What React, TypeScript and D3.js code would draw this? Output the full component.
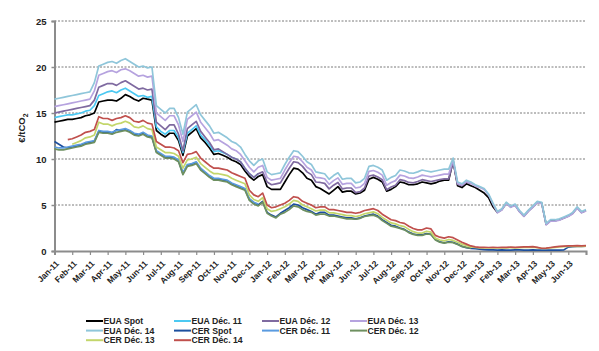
import React, { useEffect, useRef } from "react";
import * as d3 from "d3";

// Month labels on the x axis (one tick per month, Jan-11 .. Jul-13 edge)
const monthLabels = [
  "Jan-11", "Feb-11", "Mar-11", "Apr-11", "May-11", "Jun-11", "Jul-11", "Aug-11", "Sep-11", "Oct-11", "Nov-11", "Dec-11",
  "Jan-12", "Feb-12", "Mar-12", "Apr-12", "May-12", "Jun-12", "Jul-12", "Aug-12", "Sep-12", "Oct-12", "Nov-12", "Dec-12",
  "Jan-13", "Feb-13", "Mar-13", "Apr-13", "May-13", "Jun-13",
];
const yTicks = [0, 5, 10, 15, 20, 25];
const pointsPerMonth = 4; // one value per quarter month

// €/tCO2, four points per month starting Jan-11
const euaSpot = [
  14.0, 14.1, 14.2, 14.3, 14.3, 14.4, 14.5, 14.7, 14.8, 15.0, 16.2, 16.3,
  16.4, 16.4, 16.3, 16.6, 17.0, 16.8, 16.5, 16.3, 16.6, 16.5, 16.4, 13.1,
  12.7, 12.4, 12.8, 12.8, 12.0, 10.4, 12.5, 12.9, 13.3, 12.3, 11.8, 11.2,
  10.5, 10.6, 10.4, 10.2, 9.9, 9.7, 9.4, 8.7, 8.1, 7.7, 8.1, 8.3,
  7.0, 6.7, 6.7, 6.7, 7.5, 8.3, 9.0, 8.9, 8.5, 7.9, 7.7, 7.0,
  6.8, 6.5, 6.2, 6.6, 7.0, 6.4, 6.5, 6.5, 6.2, 6.3, 6.6, 7.8,
  8.0, 7.8, 7.5, 6.5, 6.7, 7.0, 7.5, 7.4, 7.2, 7.2, 7.3, 7.5,
  7.4, 7.3, 7.4, 7.6, 7.7, 7.7, 9.8, 7.1, 6.9, 7.3, 7.1, 6.9,
  6.6, 6.3, 5.8, 4.8, 4.2, 4.5, 5.2, 4.8, 5.0, 4.3, 3.8, 4.35,
  4.8, 5.3, 5.2, 2.9, 3.3, 3.3, 3.4, 3.6, 3.8, 4.1, 4.7, 4.2,
  4.4,
];
const euaDec11 = [
  14.5, 14.6, 14.7, 14.8, 14.8, 14.9, 15.0, 15.2, 15.3, 15.8, 16.9, 17.1,
  17.3, 17.4, 17.2, 17.5, 17.7, 17.4, 17.1, 16.8, 16.9, 16.7, 16.8, 13.5,
  13.0, 12.7, 13.1, 13.1, 12.3, 10.7, 12.8, 13.2, 13.6, 12.6, 12.1, 11.5,
  10.8, 10.9, 10.7, 10.5, 10.2, 10.0, 9.7, 9.0, 8.4, 8.0, 8.4,
];
const euaDec12 = [
  15.0, 15.1, 15.2, 15.3, 15.4, 15.5, 15.6, 15.7, 15.8, 16.4, 17.8, 18.0,
  18.2, 18.2, 18.0, 18.3, 18.5, 18.2, 17.9, 17.6, 17.7, 17.5, 17.6, 14.0,
  13.6, 13.2, 13.7, 13.7, 12.7, 10.9, 13.3, 13.7, 14.1, 13.0, 12.4, 11.8,
  11.0, 11.1, 10.8, 10.5, 10.2, 10.0, 9.7, 9.0, 8.4, 8.0, 8.4, 8.6,
  7.5, 7.2, 7.3, 7.4, 8.2, 9.0, 9.7, 9.6, 9.2, 8.6, 8.3, 7.5,
  7.45, 7.35, 6.75, 7.15, 7.45, 6.75, 6.85, 6.85, 6.35, 6.45, 6.85, 8.15,
  8.25, 8.05, 7.75, 6.65, 6.95, 7.15, 7.75, 7.65, 7.45, 7.4, 7.55, 7.75,
  7.65, 7.55, 7.65, 7.75, 7.85, 7.85, 9.7, 7.25, 7.1, 7.5, 7.3,
];
const euaDec13 = [
  15.7, 15.8, 15.9, 16.0, 16.1, 16.2, 16.3, 16.4, 16.5, 17.4, 19.1, 19.3,
  19.5, 19.6, 19.4, 19.7, 19.8, 19.6, 19.3, 19.0, 19.1, 18.9, 19.0, 15.0,
  14.6, 14.2, 14.7, 14.7, 13.7, 11.9, 14.3, 14.7, 15.1, 14.0, 13.4, 12.8,
  12.0, 12.1, 11.8, 11.5, 11.1, 10.9, 10.5, 9.8, 9.1, 8.6, 9.1, 9.3,
  8.0, 7.7, 7.8, 7.9, 8.8, 9.6, 10.3, 10.2, 9.7, 9.1, 8.8, 8.0,
  7.95, 7.85, 7.25, 7.65, 7.95, 7.25, 7.35, 7.35, 6.85, 6.95, 7.35, 8.65,
  8.75, 8.55, 8.25, 7.15, 7.45, 7.65, 8.25, 8.15, 7.95, 7.9, 8.05, 8.25,
  8.15, 8.05, 8.15, 8.25, 8.35, 8.35, 9.9, 7.35, 7.15, 7.55, 7.35, 7.05,
  6.9, 6.7, 6.1, 5.1, 4.15, 4.45, 5.15, 4.75, 4.95, 4.25, 3.75, 4.3,
  4.75, 5.25, 5.15, 2.85, 3.25, 3.25, 3.35, 3.55, 3.75, 4.05, 4.65, 4.15,
  4.35,
];
const euaDec14 = [
  16.5, 16.6, 16.7, 16.8, 16.9, 17.0, 17.1, 17.2, 17.3, 18.3, 20.1, 20.3,
  20.5, 20.6, 20.4, 20.7, 20.9, 20.6, 20.3, 20.0, 20.1, 19.9, 20.0, 15.8,
  15.4, 15.0, 15.5, 15.5, 14.5, 12.7, 15.1, 15.5, 15.9, 14.8, 14.2, 13.6,
  12.8, 12.9, 12.6, 12.3, 11.9, 11.7, 11.3, 10.5, 9.8, 9.3, 9.8, 10.0,
  8.6, 8.3, 8.4, 8.5, 9.4, 10.2, 10.9, 10.8, 10.3, 9.7, 9.4, 8.6,
  8.5, 8.4, 7.8, 8.2, 8.5, 7.8, 7.9, 7.9, 7.4, 7.5, 7.9, 9.2,
  9.3, 9.1, 8.8, 7.7, 8.0, 8.2, 8.8, 8.7, 8.5, 8.45, 8.6, 8.8,
  8.7, 8.6, 8.7, 8.8, 8.9, 8.9, 10.1, 7.5, 7.3, 7.7, 7.5, 7.2,
  7.0, 6.8, 6.2, 5.2, 4.3, 4.6, 5.3, 4.9, 5.1, 4.4, 3.9, 4.45,
  4.9, 5.4, 5.3, 3.0, 3.4, 3.4, 3.5, 3.7, 3.9, 4.2, 4.8, 4.3,
  4.5,
];
const cerSpot = [
  11.9, 11.6, 11.3, 11.2, 11.3, 11.4, 11.5, 11.7, 11.8, 11.9, 13.0, 12.9,
  12.9, 12.8, 13.2, 13.1, 13.2, 13.0, 12.7, 12.6, 12.8, 12.5, 12.4, 10.8,
  10.5, 10.2, 10.2, 10.1, 9.8, 8.4, 9.3, 9.4, 9.6, 8.9, 8.5, 8.1,
  7.8, 7.8, 7.7, 7.6, 7.3, 7.1, 6.9, 6.7, 5.6, 5.2, 5.0, 5.4,
  4.2, 3.9, 3.7, 4.1, 4.4, 4.7, 5.1, 5.0, 4.7, 4.5, 4.3, 4.0,
  4.2, 4.2, 3.9, 3.9, 3.8, 3.7, 3.6, 3.6, 3.5, 3.6, 3.8, 3.9,
  4.0, 3.8, 3.4, 3.1, 2.8, 2.7, 2.5, 2.35, 2.05, 1.85, 1.75, 1.75,
  1.9, 1.8, 1.25, 1.0, 0.9, 1.0, 0.95, 0.75, 0.5, 0.35, 0.28, 0.25,
  0.2, 0.15, 0.12, 0.12, 0.1, 0.12, 0.1, 0.1, 0.12, 0.12, 0.1, 0.1,
  0.12, 0.1, 0.1, 0.1, 0.1, 0.1, 0.1, 0.12, 0.42, 0.48, 0.5, 0.5,
  0.52,
];
const cerDec11 = [
  11.3, 11.2, 11.2, 11.3, 11.4, 11.5, 11.6, 11.8, 11.9, 12.0, 13.1, 13.0,
  13.0, 12.9, 13.1, 13.2, 13.3, 13.1, 12.8, 12.7, 12.9, 12.6, 12.5, 10.9,
  10.6, 10.3, 10.3, 10.2, 9.9, 8.5, 9.4, 9.5, 9.7, 9.0, 8.6, 8.2,
  7.9, 7.9, 7.8, 7.7, 7.4, 7.2, 7.0, 6.8, 5.7, 5.3, 5.1,
];
const cerDec12 = [
  11.1, 11.0, 11.0, 11.1, 11.2, 11.3, 11.4, 11.6, 11.7, 11.8, 12.9, 12.8,
  12.8, 12.7, 12.9, 13.0, 13.1, 12.9, 12.6, 12.5, 12.7, 12.4, 12.3, 10.7,
  10.4, 10.1, 10.1, 10.0, 9.7, 8.3, 9.2, 9.3, 9.5, 8.8, 8.4, 8.0,
  7.7, 7.7, 7.6, 7.5, 7.2, 7.0, 6.8, 6.6, 5.5, 5.1, 4.9, 5.3,
  4.1, 3.8, 3.6, 4.0, 4.2, 4.5, 4.9, 4.8, 4.5, 4.3, 4.2, 3.9,
  4.0, 4.0, 3.8, 3.8, 3.7, 3.6, 3.5, 3.5, 3.45, 3.55, 3.75, 3.85,
  3.9, 3.7, 3.3, 3.0, 2.7, 2.6, 2.45, 2.3, 2.0, 1.8, 1.7, 1.7,
  1.85, 1.8, 1.2, 0.95, 0.85, 0.95, 0.9, 0.7, 0.5, 0.4, 0.3,
];
const cerDec13 = [
  null, null, null, null, 11.6, 11.8, 12.0, 12.3, 12.4, 12.6, 14.0, 13.8,
  13.8, 13.6, 13.8, 13.9, 14.1, 13.9, 13.5, 13.4, 13.6, 13.3, 13.2, 11.3,
  11.0, 10.7, 10.7, 10.6, 10.3, 9.0, 9.9, 10.0, 10.2, 9.5, 9.1, 8.7,
  8.4, 8.4, 8.3, 8.2, 7.9, 7.7, 7.5, 7.3, 6.1, 5.6, 5.4, 5.8,
  4.6, 4.3, 4.4, 4.6, 4.8, 5.1, 5.5, 5.4, 5.0, 4.8, 4.6, 4.35,
  4.45, 4.45, 4.15, 4.15, 4.05, 3.95, 3.85, 3.85, 3.75, 3.85, 4.05, 4.15,
  4.25, 4.05, 3.65, 3.35, 3.05, 2.95, 2.75, 2.65, 2.35, 2.1, 1.95, 1.95,
  2.15, 2.05, 1.4, 1.2, 1.1, 1.25, 1.15, 0.95, 0.75, 0.6, 0.45, 0.38,
  0.35, 0.35, 0.33, 0.35, 0.33, 0.35, 0.35, 0.37, 0.35, 0.37, 0.4, 0.4,
  0.42, 0.36, 0.27, 0.28, 0.33, 0.4, 0.45, 0.47, 0.5, 0.5, 0.53, 0.5,
  0.53,
];
const cerDec14 = [
  null, null, null, 12.1, 12.2, 12.4, 12.6, 12.9, 13.0, 13.2, 14.6, 14.4,
  14.4, 14.2, 14.4, 14.5, 14.7, 14.5, 14.1, 14.0, 14.2, 13.9, 13.8, 11.9,
  11.6, 11.3, 11.3, 11.2, 10.9, 9.6, 10.5, 10.6, 10.8, 10.1, 9.7, 9.3,
  9.0, 9.0, 8.9, 8.8, 8.5, 8.3, 8.1, 7.9, 6.6, 6.1, 5.9, 6.3,
  5.0, 4.7, 4.8, 5.0, 5.2, 5.5, 5.9, 5.8, 5.4, 5.2, 5.0, 4.7,
  4.8, 4.8, 4.5, 4.5, 4.4, 4.3, 4.2, 4.2, 4.1, 4.2, 4.4, 4.5,
  4.6, 4.4, 4.0, 3.7, 3.4, 3.3, 3.1, 3.0, 2.7, 2.45, 2.3, 2.3,
  2.5, 2.4, 1.7, 1.5, 1.4, 1.55, 1.45, 1.2, 0.95, 0.75, 0.55, 0.45,
  0.4, 0.4, 0.38, 0.4, 0.38, 0.4, 0.4, 0.42, 0.4, 0.42, 0.45, 0.45,
  0.47, 0.4, 0.3, 0.32, 0.38, 0.45, 0.5, 0.52, 0.55, 0.55, 0.58, 0.55,
  0.58,
];

const seriesNames = [
  "EUA Spot", "EUA Déc. 11", "EUA Déc. 12", "EUA Déc. 13", "EUA Déc. 14",
  "CER Spot", "CER Déc. 11", "CER Déc. 12", "CER Déc. 13", "CER Déc. 14",
];
const seriesColors = [
  "#000000", "#4cc9f2", "#7f6aa0", "#b6a3df", "#8fc6da",
  "#1c4f9e", "#5a9be0", "#6e9060", "#c3d66b", "#c0504d",
];
const seriesValues = [
  euaSpot, euaDec11, euaDec12, euaDec13, euaDec14,
  cerSpot, cerDec11, cerDec12, cerDec13, cerDec14,
];

const App = () => {
  const svgRef = useRef(null);

  useEffect(() => {
    const svg = d3.select(svgRef.current);
    svg.selectAll("*").remove();

    const x = d3.scaleLinear().domain([0, monthLabels.length]).range([54.5, 586]);
    const y = d3.scaleLinear().domain([0, 25]).range([251, 21]);
    const bold = "bold";
    const font = "Liberation Sans, Arial, sans-serif";

    // dotted grid
    svg.append("g")
      .selectAll("line")
      .data(yTicks.filter((t) => t > 0))
      .enter()
      .append("line")
      .attr("x1", x(0))
      .attr("x2", x(monthLabels.length))
      .attr("y1", (d) => y(d))
      .attr("y2", (d) => y(d))
      .attr("stroke", "#7a7a7a")
      .attr("stroke-width", 1)
      .attr("stroke-dasharray", "2,1.5");

    // y axis
    const yAxis = svg.append("g")
      .attr("transform", `translate(${x(0)},0)`)
      .call(d3.axisLeft(y).tickValues(yTicks).tickSize(3).tickPadding(5));
    yAxis.select(".domain").attr("stroke", "#8c8c8c").attr("stroke-width", 2);
    yAxis.selectAll("line").attr("stroke", "#8c8c8c").attr("stroke-width", 1.5);
    yAxis.selectAll("text")
      .attr("font-family", font)
      .attr("font-weight", bold)
      .attr("font-size", 9.5)
      .attr("fill", "#222");

    // x axis
    const xAxis = svg.append("g")
      .attr("transform", `translate(0,${y(0)})`)
      .call(
        d3.axisBottom(x)
          .tickValues(d3.range(monthLabels.length + 1))
          .tickSize(4)
          .tickFormat(() => "")
      );
    xAxis.select(".domain").attr("stroke", "#8c8c8c").attr("stroke-width", 2);
    xAxis.selectAll("line").attr("stroke", "#8c8c8c").attr("stroke-width", 1.2);

    svg.append("g")
      .selectAll("text")
      .data(monthLabels)
      .enter()
      .append("text")
      .attr("transform", (d, i) => `translate(${x(i) + 3},${y(0) + 11}) rotate(-45)`)
      .attr("text-anchor", "end")
      .attr("dy", "0.35em")
      .attr("font-family", font)
      .attr("font-weight", bold)
      .attr("font-size", 8.5)
      .attr("fill", "#222")
      .text((d) => d);

    // y title
    const title = svg.append("text")
      .attr("transform", `translate(25,128) rotate(-90)`)
      .attr("text-anchor", "middle")
      .attr("font-family", font)
      .attr("font-weight", bold)
      .attr("font-size", 9.5)
      .attr("fill", "#222");
    title.append("tspan").text("€/tCO");
    title.append("tspan").attr("font-size", 7).attr("dy", 2.5).text("2");

    // lines
    const line = d3.line()
      .defined((d) => d != null)
      .x((d, i) => x(i / pointsPerMonth))
      .y((d) => y(d));

    svg.append("g")
      .selectAll("path")
      .data(seriesValues)
      .enter()
      .append("path")
      .attr("d", (d) => line(d))
      .attr("fill", "none")
      .attr("stroke", (d, i) => seriesColors[i])
      .attr("stroke-width", 1.7)
      .attr("stroke-linejoin", "round");

    // legend
    const legend = svg.append("g")
      .selectAll("g")
      .data(seriesNames)
      .enter()
      .append("g")
      .attr("transform", (d, i) => `translate(${86 + (i % 4) * 88},${321 + Math.floor(i / 4) * 9.6})`);

    legend.append("line")
      .attr("x1", 0)
      .attr("x2", 17)
      .attr("stroke", (d, i) => seriesColors[i])
      .attr("stroke-width", 2);

    legend.append("text")
      .attr("x", 17.5)
      .attr("dy", "0.35em")
      .attr("font-family", font)
      .attr("font-weight", bold)
      .attr("font-size", 8.7)
      .attr("fill", "#222")
      .text((d) => d);
  }, []);

  return (
    <svg
      ref={svgRef}
      width={599}
      height={351}
      style={{ position: "absolute", left: 0, top: 0, background: "#fff" }}
    ></svg>
  );
};

export default App;
